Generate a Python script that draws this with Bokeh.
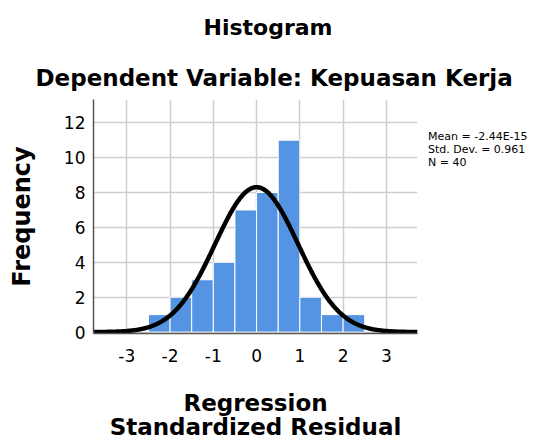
import numpy as np
from bokeh.plotting import figure
from bokeh.models import Range1d, FixedTicker, ColumnDataSource, Title, Legend, LegendItem
from bokeh.embed import file_html
from bokeh.resources import INLINE

# ---- data ----
bin_left = [-2.5, -2.0, -1.5, -1.0, -0.5, 0.0, 0.5, 1.0, 1.5, 2.0]
bin_right = [-2.0, -1.5, -1.0, -0.5, 0.0, 0.5, 1.0, 1.5, 2.0, 2.5]
counts = [1, 2, 3, 4, 7, 8, 11, 2, 1, 1]
x_ticks = [-3, -2, -1, 0, 1, 2, 3]
y_ticks = [0, 2, 4, 6, 8, 10, 12]
stat_mean = -2.44e-15
stat_sd = 0.961
stat_n = 40
stat_lines = ["Mean = -2.44E-15", "Std. Dev. = 0.961", "N = 40"]
title1 = "Histogram"
title2 = "Dependent Variable: Kepuasan Kerja"
x_label = "Regression\nStandardized Residual"
y_label = "Frequency"

p = figure(frame_width=324, frame_height=234, output_backend="svg", toolbar_location=None,
           x_range=Range1d(-3.77, 3.72), y_range=Range1d(-0.08, 13.33),
           min_border_left=93, min_border_right=117,
           min_border_top=99, min_border_bottom=100)
p.outline_line_color = None
p.background_fill_color = "white"

src = ColumnDataSource(dict(left=bin_left, right=bin_right, top=counts,
                            bottom=[0] * len(counts)))
p.quad(left="left", right="right", top="top", bottom="bottom", source=src,
       fill_color="#5593e3", line_color="white", line_width=1)

# fitted normal curve from the stated mean / sd / N (bin width 0.5)
bw = bin_right[0] - bin_left[0]
xs = np.linspace(-3.77, 3.72, 400)
ys = stat_n * bw * np.exp(-0.5 * ((xs - stat_mean) / stat_sd) ** 2) / (stat_sd * np.sqrt(2 * np.pi))
p.line(xs, ys, line_color="black", line_width=4.5)

for ax in (p.xaxis[0], p.yaxis[0]):
    ax.major_tick_line_color = None
    ax.minor_tick_line_color = None
    ax.major_label_text_font = "DejaVu Sans"
    ax.major_label_text_font_size = "17px"
    ax.major_label_text_color = "black"
    ax.axis_label_text_font = "DejaVu Sans"
    ax.axis_label_text_font_style = "bold"
    ax.axis_label_text_font_size = "23px"
    ax.axis_label_text_color = "black"
    ax.axis_line_color = "#555555"
    ax.axis_line_width = 1.5

p.xaxis.ticker = FixedTicker(ticks=x_ticks)
p.yaxis.ticker = FixedTicker(ticks=y_ticks)
p.xaxis.major_label_overrides = {t: str(t) for t in x_ticks}
p.xaxis.major_label_standoff = 9
p.yaxis.major_label_standoff = 2
p.yaxis.axis_label = y_label
p.yaxis.axis_label_standoff = 25
p.yaxis.axis_label_text_font_size = "24px"
p.xaxis.axis_label = x_label
p.xaxis.axis_label_standoff = 25
p.xaxis.axis_label_text_line_height = 0.95

p.xgrid.ticker = FixedTicker(ticks=x_ticks)
p.ygrid.ticker = FixedTicker(ticks=y_ticks)
p.grid.grid_line_color = "#cfcfcf"
p.grid.grid_line_width = 1.5

p.add_layout(Title(text=title2, align="left", text_font="DejaVu Sans", text_color="black",
                   text_font_style="bold", text_font_size="23px", standoff=18, offset=-58), "above")
p.add_layout(Title(text=title1, align="left", vertical_align="top", text_font="DejaVu Sans",
                   text_color="black", text_font_style="bold", text_font_size="22px",
                   standoff=23, offset=110), "above")

# statistics box on the right
dummies = [p.line(x=[], y=[], line_alpha=0) for _ in stat_lines]
legend = Legend(items=[LegendItem(label=t, renderers=[r]) for t, r in zip(stat_lines, dummies)],
                location=(11, 164), glyph_width=0, glyph_height=10, label_height=10,
                label_standoff=0, spacing=0, padding=0, margin=0,
                label_text_font="DejaVu Sans", label_text_font_size="11px",
                label_text_color="black", border_line_color=None,
                background_fill_alpha=0)
p.add_layout(legend, "right")

open("out.html", "w").write(file_html(p, INLINE))
